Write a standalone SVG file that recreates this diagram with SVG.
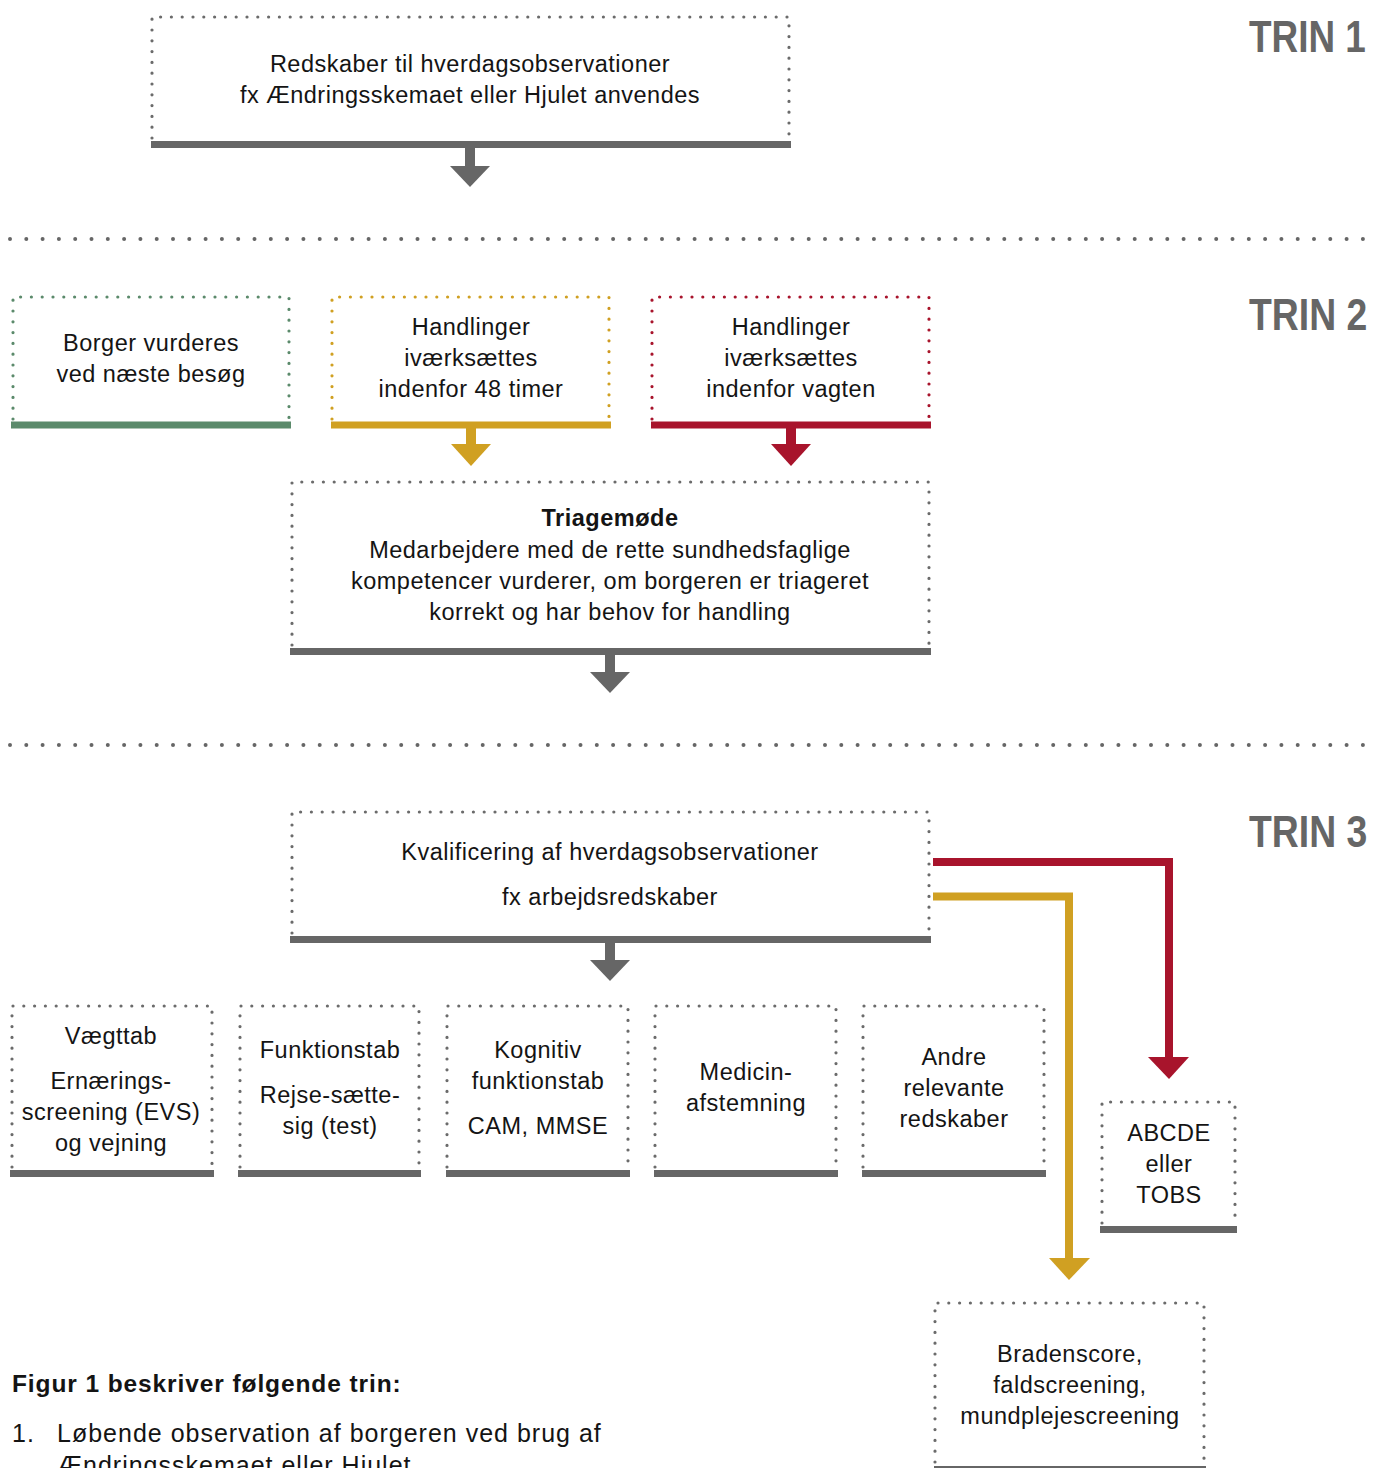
<svg xmlns="http://www.w3.org/2000/svg" width="1375" height="1468" viewBox="0 0 1375 1468">
  <style>
    .txt { font-family: "Liberation Sans", Arial, sans-serif; font-size: 23.5px; letter-spacing: 0.5px; fill: #141414; text-anchor: middle; }
    .bold { font-weight: bold; }
    .trin { font-family: "Liberation Sans", Arial, sans-serif; font-size: 45px; font-weight: bold; fill: #666666; }
    .dots { fill: none; stroke-width: 3.2; stroke-linecap: round; stroke-dasharray: 0 10.8; }
    .grey { stroke: #6b6b6b; }
    .sep { fill: none; stroke: #666666; stroke-width: 4; stroke-linecap: round; stroke-dasharray: 0 16.3; }
    .bar { stroke-width: 7; fill: none; }
    .line { fill: none; stroke-width: 8; stroke-linejoin: miter; }
    .left { text-anchor: start; }
    .cap { font-size: 25px; letter-spacing: 1px; }
    .head { font-size: 24.5px; letter-spacing: 0.9px; }
  </style>

  <!-- section separators -->
  <g id="separators">
    <path class="sep" d="M10 239 H1376"/>
    <path class="sep" d="M10 745 H1376"/>
  </g>

  <!-- step labels (horizontally condensed) -->
  <g id="step-labels">
    <text class="trin" transform="translate(1249 52) scale(0.82 1)">TRIN 1</text>
    <text class="trin" transform="translate(1249 330) scale(0.83 1)">TRIN 2</text>
    <text class="trin" transform="translate(1249 847) scale(0.83 1)">TRIN 3</text>
  </g>

  <!-- step 1 -->
  <g id="node-redskaber">
    <path class="dots grey" d="M152 138 V17 H789 V138"/>
    <line class="bar" stroke="#666666" x1="151" y1="144.5" x2="791" y2="144.5"/>
    <text class="txt" x="470" y="72">Redskaber til hverdagsobservationer</text>
    <text class="txt" x="470" y="103">fx Ændringsskemaet eller Hjulet anvendes</text>
  </g>

  <!-- step 2 -->
  <g id="node-borger">
    <path class="dots" stroke="#5b8a6b" d="M13 419 V297 H289 V419"/>
    <line class="bar" stroke="#5b8a6b" x1="11" y1="425" x2="291" y2="425"/>
    <text class="txt" x="151" y="351">Borger vurderes</text>
    <text class="txt" x="151" y="382">ved næste besøg</text>
  </g>

  <g id="node-48timer">
    <path class="dots" stroke="#d0a022" d="M332 419 V297 H609 V419"/>
    <line class="bar" stroke="#d0a022" x1="331" y1="425" x2="611" y2="425"/>
    <text class="txt" x="471" y="335">Handlinger</text>
    <text class="txt" x="471" y="366">iværksættes</text>
    <text class="txt" x="471" y="397">indenfor 48 timer</text>
  </g>

  <g id="node-vagten">
    <path class="dots" stroke="#a8142c" d="M652 419 V297 H929 V419"/>
    <line class="bar" stroke="#a8142c" x1="651" y1="425" x2="931" y2="425"/>
    <text class="txt" x="791" y="335">Handlinger</text>
    <text class="txt" x="791" y="366">iværksættes</text>
    <text class="txt" x="791" y="397">indenfor vagten</text>
  </g>

  <g id="node-triage">
    <path class="dots grey" d="M292 645 V482 H929 V645"/>
    <line class="bar" stroke="#666666" x1="290" y1="651.5" x2="931" y2="651.5"/>
    <text class="txt bold" x="610" y="526">Triagemøde</text>
    <text class="txt" x="610" y="558">Medarbejdere med de rette sundhedsfaglige</text>
    <text class="txt" x="610" y="589">kompetencer vurderer, om borgeren er triageret</text>
    <text class="txt" x="610" y="620">korrekt og har behov for handling</text>
  </g>

  <!-- step 3 -->
  <g id="node-kvalificering">
    <path class="dots grey" d="M292 933 V812 H929 V933"/>
    <line class="bar" stroke="#666666" x1="290" y1="939.5" x2="931" y2="939.5"/>
    <text class="txt" x="610" y="860">Kvalificering af hverdagsobservationer</text>
    <text class="txt" x="610" y="905">fx arbejdsredskaber</text>
  </g>

  <g id="node-vaegttab">
    <path class="dots grey" d="M12 1167 V1006 H212 V1167"/>
    <line class="bar" stroke="#666666" x1="10" y1="1173.5" x2="214" y2="1173.5"/>
    <text class="txt" x="111" y="1044">Vægttab</text>
    <text class="txt" x="111" y="1089">Ernærings-</text>
    <text class="txt" x="111" y="1120">screening (EVS)</text>
    <text class="txt" x="111" y="1151">og vejning</text>
  </g>

  <g id="node-funktionstab">
    <path class="dots grey" d="M240 1167 V1006 H419 V1167"/>
    <line class="bar" stroke="#666666" x1="238" y1="1173.5" x2="421" y2="1173.5"/>
    <text class="txt" x="330" y="1058">Funktionstab</text>
    <text class="txt" x="330" y="1103">Rejse-sætte-</text>
    <text class="txt" x="330" y="1134">sig (test)</text>
  </g>

  <g id="node-kognitiv">
    <path class="dots grey" d="M447 1167 V1006 H628 V1167"/>
    <line class="bar" stroke="#666666" x1="446" y1="1173.5" x2="630" y2="1173.5"/>
    <text class="txt" x="538" y="1058">Kognitiv</text>
    <text class="txt" x="538" y="1089">funktionstab</text>
    <text class="txt" x="538" y="1134">CAM, MMSE</text>
  </g>

  <g id="node-medicin">
    <path class="dots grey" d="M655 1167 V1006 H836 V1167"/>
    <line class="bar" stroke="#666666" x1="654" y1="1173.5" x2="838" y2="1173.5"/>
    <text class="txt" x="746" y="1080">Medicin-</text>
    <text class="txt" x="746" y="1111">afstemning</text>
  </g>

  <g id="node-andre">
    <path class="dots grey" d="M863 1167 V1006 H1044 V1167"/>
    <line class="bar" stroke="#666666" x1="862" y1="1173.5" x2="1046" y2="1173.5"/>
    <text class="txt" x="954" y="1065">Andre</text>
    <text class="txt" x="954" y="1096">relevante</text>
    <text class="txt" x="954" y="1127">redskaber</text>
  </g>

  <g id="node-abcde">
    <path class="dots grey" d="M1102 1223 V1102 H1235 V1223"/>
    <line class="bar" stroke="#666666" x1="1100" y1="1229.5" x2="1237" y2="1229.5"/>
    <text class="txt" x="1169" y="1141">ABCDE</text>
    <text class="txt" x="1169" y="1172">eller</text>
    <text class="txt" x="1169" y="1203">TOBS</text>
  </g>

  <g id="node-braden">
    <path class="dots grey" d="M935 1462 V1303 H1204 V1462"/>
    <line stroke="#666666" stroke-width="3" x1="934" y1="1467.5" x2="1206" y2="1467.5"/>
    <text class="txt" x="1070" y="1362">Bradenscore,</text>
    <text class="txt" x="1070" y="1393">faldscreening,</text>
    <text class="txt" x="1070" y="1424">mundplejescreening</text>
  </g>

  <!-- connectors -->
  <g id="connectors">
    <!-- grey down arrows -->
    <g fill="#666666">
      <rect x="465" y="148" width="10" height="19"/>
      <polygon points="450,166 490,166 470,187"/>
      <rect x="605" y="655" width="10" height="18"/>
      <polygon points="590,672 630,672 610,693"/>
      <rect x="605" y="943" width="10" height="18"/>
      <polygon points="590,960 630,960 610,981"/>
    </g>
    <!-- yellow: 48 timer to triage -->
    <g fill="#d0a022">
      <rect x="466" y="428" width="10" height="17"/>
      <polygon points="451,444 491,444 471,466"/>
    </g>
    <!-- red: vagten to triage -->
    <g fill="#a8142c">
      <rect x="786" y="428" width="10" height="17"/>
      <polygon points="771,444 811,444 791,466"/>
    </g>
    <!-- red: kvalificering to ABCDE -->
    <polyline class="line" stroke="#a8142c" points="933,862 1169,862 1169,1060"/>
    <polygon fill="#a8142c" points="1148,1057 1189,1057 1169,1079"/>
    <!-- yellow: kvalificering to Bradenscore -->
    <polyline class="line" stroke="#d0a022" points="933,896.5 1069,896.5 1069,1261"/>
    <polygon fill="#d0a022" points="1049,1258 1090,1258 1069,1280"/>
  </g>

  <!-- caption -->
  <g id="caption">
    <text class="txt bold left head" x="12" y="1392">Figur 1 beskriver følgende trin:</text>
    <text class="txt left cap" x="12" y="1442">1.</text>
    <text class="txt left cap" x="57" y="1442">Løbende observation af borgeren ved brug af</text>
    <text class="txt left cap" x="57" y="1474">Ændringsskemaet eller Hjulet</text>
  </g>
</svg>
